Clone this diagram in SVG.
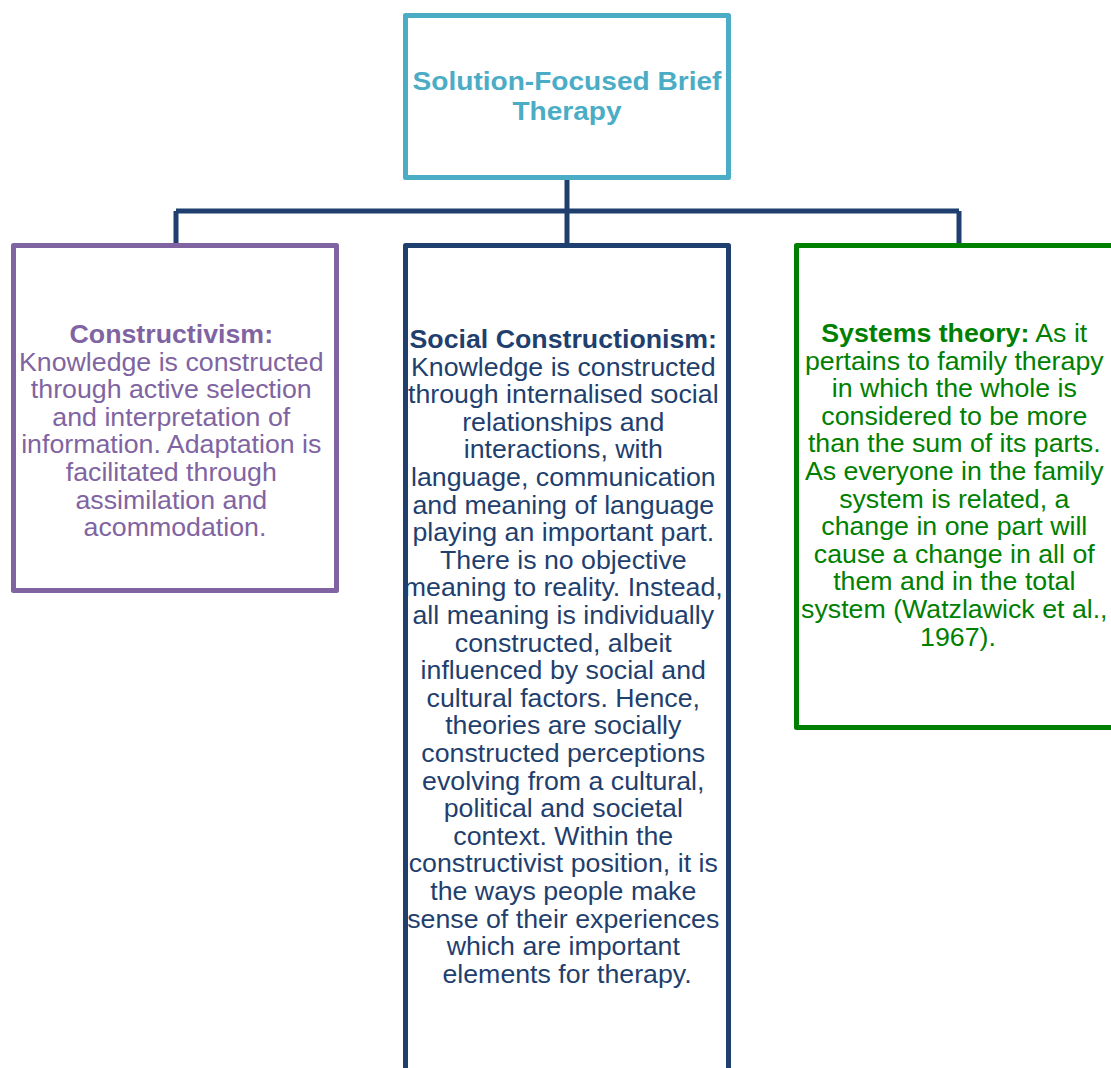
<svg xmlns="http://www.w3.org/2000/svg" width="1111" height="1068" viewBox="0 0 1111 1068">
<style>
.box{fill:#fff;stroke-width:5;stroke-linejoin:round}
.t{font-family:"Liberation Sans",Arial,sans-serif;font-size:25px;text-anchor:middle}
.ttl{font-size:26.5px;font-weight:bold}
.b{font-weight:bold}
.conn{fill:none;stroke:#1F3F6E;stroke-width:5}
</style>
<rect width="1111" height="1068" fill="#fff"/>
<g id="connectors">
<path class="conn" d="M567 178V245M176 211H959M176 211V245M959 211V245"/>
</g>
<g id="top">
<rect class="box" x="405.5" y="15.5" width="323" height="162" stroke="#4BACC6"/>
<text class="t ttl" fill="#4BACC6" transform="translate(567 0) scale(1.06 1)"><tspan x="0" y="90">Solution-Focused Brief</tspan><tspan x="0" y="120">Therapy</tspan></text>
</g>
<g id="constructivism">
<rect class="box" x="13.5" y="245.5" width="323" height="345" stroke="#8064A2"/>
<text class="t" fill="#8064A2" transform="translate(175 0) scale(1.07 1)">
<tspan x="0" y="343" class="b">Constructivism:</tspan>
<tspan x="0" y="370.6">Knowledge is constructed</tspan>
<tspan x="0" y="398.2">through active selection</tspan>
<tspan x="0" y="425.8">and interpretation of</tspan>
<tspan x="0" y="453.4">information. Adaptation is</tspan>
<tspan x="0" y="481">facilitated through</tspan>
<tspan x="0" y="508.6">assimilation and</tspan>
<tspan x="0" y="536.2">acommodation.</tspan>
</text>
</g>
<g id="social-constructionism">
<rect class="box" x="405.5" y="245.5" width="323" height="840" stroke="#1F3F6E"/>
<text class="t" fill="#1F3F6E" transform="translate(567 0) scale(1.07 1)">
<tspan x="0" y="348" class="b">Social Constructionism:</tspan>
<tspan x="0" y="375.6">Knowledge is constructed</tspan>
<tspan x="0" y="403.2">through internalised social</tspan>
<tspan x="0" y="430.8">relationships and</tspan>
<tspan x="0" y="458.4">interactions, with</tspan>
<tspan x="0" y="486">language, communication</tspan>
<tspan x="0" y="513.6">and meaning of language</tspan>
<tspan x="0" y="541.2">playing an important part.</tspan>
<tspan x="0" y="568.8">There is no objective</tspan>
<tspan x="0" y="596.4">meaning to reality. Instead,</tspan>
<tspan x="0" y="624">all meaning is individually</tspan>
<tspan x="0" y="651.6">constructed, albeit</tspan>
<tspan x="0" y="679.2">influenced by social and</tspan>
<tspan x="0" y="706.8">cultural factors. Hence,</tspan>
<tspan x="0" y="734.4">theories are socially</tspan>
<tspan x="0" y="762">constructed perceptions</tspan>
<tspan x="0" y="789.6">evolving from a cultural,</tspan>
<tspan x="0" y="817.2">political and societal</tspan>
<tspan x="0" y="844.8">context. Within the</tspan>
<tspan x="0" y="872.4">constructivist position, it is</tspan>
<tspan x="0" y="900">the ways people make</tspan>
<tspan x="0" y="927.6">sense of their experiences</tspan>
<tspan x="0" y="955.2">which are important</tspan>
<tspan x="0" y="982.8">elements for therapy.</tspan>
</text>
</g>
<g id="systems-theory">
<rect class="box" x="796.5" y="245.5" width="323" height="482" stroke="#008000"/>
<text class="t" fill="#008000" transform="translate(958 0) scale(1.07 1)">
<tspan x="0" y="342"><tspan class="b">Systems theory:</tspan> As it</tspan>
<tspan x="0" y="369.6">pertains to family therapy</tspan>
<tspan x="0" y="397.2">in which the whole is</tspan>
<tspan x="0" y="424.8">considered to be more</tspan>
<tspan x="0" y="452.4">than the sum of its parts.</tspan>
<tspan x="0" y="480">As everyone in the family</tspan>
<tspan x="0" y="507.6">system is related, a</tspan>
<tspan x="0" y="535.2">change in one part will</tspan>
<tspan x="0" y="562.8">cause a change in all of</tspan>
<tspan x="0" y="590.4">them and in the total</tspan>
<tspan x="0" y="618">system (Watzlawick et al.,</tspan>
<tspan x="0" y="645.6">1967).</tspan>
</text>
</g>
</svg>
